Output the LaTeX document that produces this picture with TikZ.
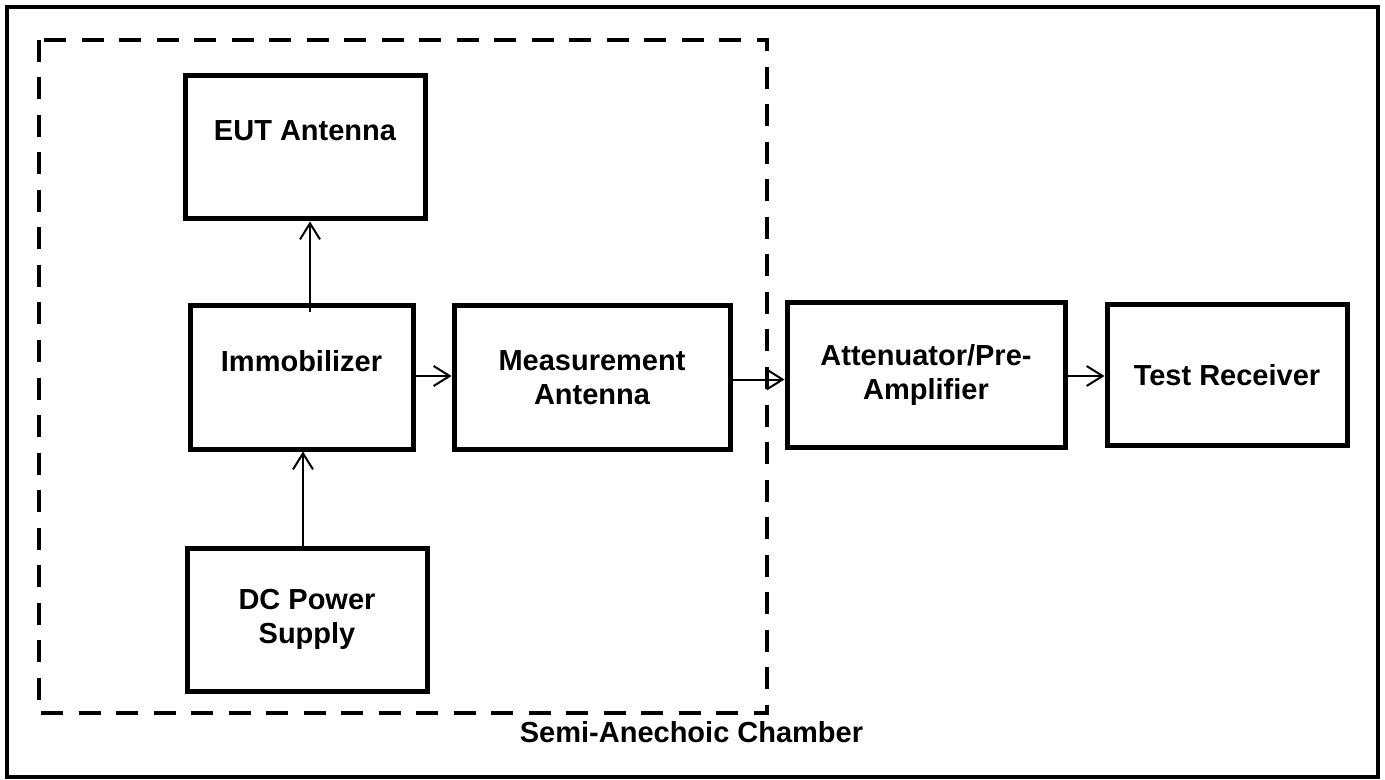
\documentclass[tikz,border=0pt]{standalone}
\usepackage{fontspec}
\setmainfont{Liberation Sans}
\usetikzlibrary{positioning,arrows.meta}

\begin{document}
\begin{tikzpicture}[x=0.5pt,y=-0.5pt,thick,
  block/.style={rectangle,draw,line width=2.5pt,align=center,inner sep=0pt,
    minimum height=71.5pt,font=\bfseries\fontsize{14.5}{17}\selectfont},
  arr/.style={-{Straight Barb[length=8pt,width=10pt]},line width=1pt}]
\useasboundingbox (0,0) rectangle (1385,780);
\draw[line width=2pt] (7,7) rectangle (1378,776.5);
\draw[line width=2.25pt,dash pattern=on 11pt off 7.75pt] (39,40) rectangle (767,713);
\node (chlbl) [anchor=base,font=\bfseries\fontsize{14.5}{17}\selectfont] at (691.5,742) {Semi-Anechoic Chamber};
\node[block] (immob) [minimum width=111.5pt] at (301.5,377.5) {Immobilizer\\\mbox{}};
\node[block] (meas) [minimum width=138pt, minimum height=72pt, right=18pt of immob] {Measurement\\Antenna};
\node[block] (att) [minimum width=139pt, minimum height=72pt, right=26pt of meas, yshift=1.25pt] {Attenuator/Pre-\\Amplifier};
\node[block] (test) [minimum width=120pt, minimum height=70pt, right=18.5pt of att] {Test Receiver};
\node[block] (eut) [minimum width=120pt, above=41pt of immob, xshift=1.75pt] {EUT Antenna\\\mbox{}};
\node[block] (dc) [minimum width=120pt, below=47pt of immob, xshift=2.75pt] {DC Power\\Supply};
\draw[arr] ([xshift=4.25pt,yshift=-4.5pt]immob.north) -- ([xshift=4.25pt]immob.north |- eut.south);
\draw[arr] ([xshift=-2pt]dc.north) -- ([xshift=-2pt]dc.north |- immob.south);
\draw[arr] ([yshift=0.75pt]immob.east) -- ([yshift=0.75pt]immob.east -| meas.west);
\draw[arr] ([yshift=-1pt]meas.east) -- ([yshift=-1pt]meas.east -| att.west);
\draw[arr] ([yshift=-0.5pt]att.east) -- ([yshift=-0.5pt]att.east -| test.west);
\end{tikzpicture}
\end{document}
